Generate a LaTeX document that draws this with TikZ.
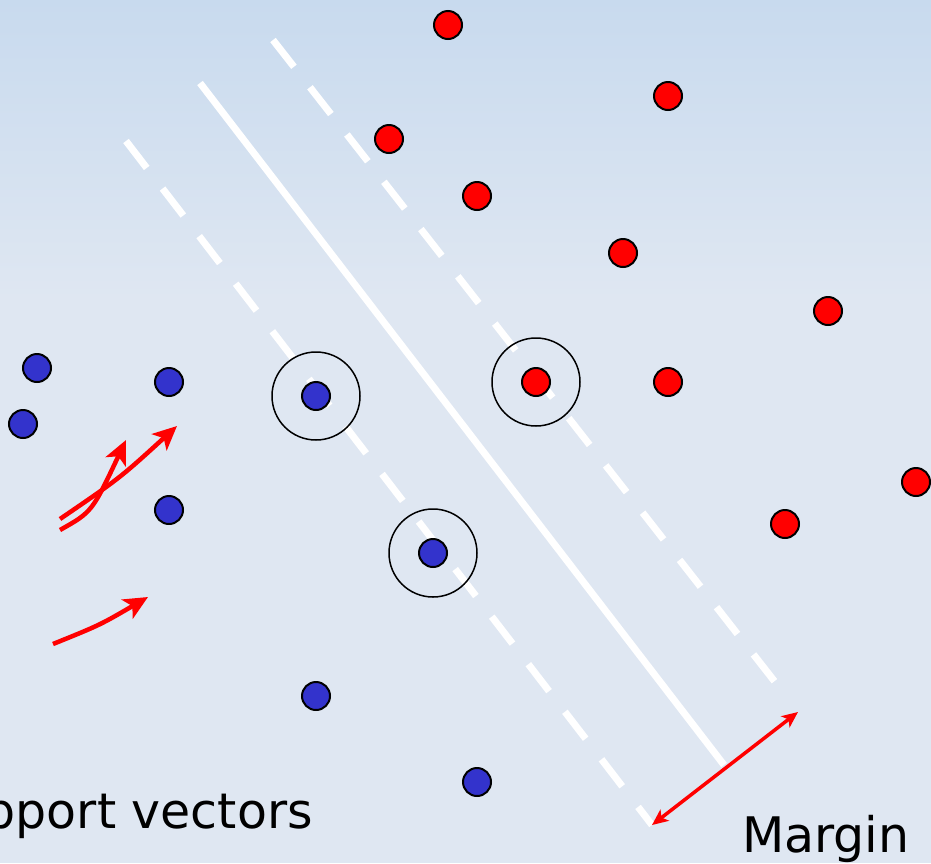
\documentclass[tikz,border=0pt]{standalone}
\usepackage{fontspec}
\setmainfont{DejaVu Sans}
\usetikzlibrary{arrows.meta}
\definecolor{bgtop}{RGB}{200,218,238}
\definecolor{bgbottom}{RGB}{223,231,242}
\definecolor{svblue}{RGB}{51,51,204}

\begin{document}
\begin{tikzpicture}[x=1pt, y=-1pt,
    reddot/.style={circle, draw=black, line width=2pt, fill=red, minimum size=28pt, inner sep=0pt},
    bluedot/.style={circle, draw=black, line width=2pt, fill=svblue, minimum size=28pt, inner sep=0pt},
    ring/.style={circle, draw=black, line width=1.5pt, minimum size=88pt, inner sep=0pt},
    hyper/.style={white, line width=7pt},
    marginline/.style={white, line width=7pt, dash pattern=on 34pt off 26pt},
    pointer/.style={red, line width=4.5pt, -{Stealth[length=24pt, width=22pt, inset=6pt]}},
    label/.style={font=\fontsize{49}{56}\selectfont, inner sep=0pt}
]
\useasboundingbox (0,0) rectangle (931,863);
% background
\shade[top color=bgtop, bottom color=bgbottom] (0,0) rectangle (931,300);
\fill[bgbottom] (0,300) rectangle (931,863);

% separating line and margins
\coordinate (hTop) at (200,83);
\coordinate (hBot) at (724,765);
\coordinate (lTop) at (126,141);
\coordinate (lBot) at (652,825);
\coordinate (rTop) at (273,40);
\coordinate (rBot) at (786,696);
\draw[hyper] (hTop) -- (hBot);
\draw[marginline] (lTop) -- (lBot);
\draw[marginline] (rTop) -- (rBot);

% class +1
\node[reddot] (r1) at (448,25) {};
\node[reddot] (r2) at (668,96) {};
\node[reddot] (r3) at (389,139) {};
\node[reddot] (r4) at (477,196) {};
\node[reddot] (r5) at (623,253) {};
\node[reddot] (r6) at (828,311) {};
\node[reddot] (r7) at (536,382) {};
\node[reddot] (r8) at (668,382) {};
\node[reddot] (r9) at (916,482) {};
\node[reddot] (r10) at (785,524) {};

% class -1
\node[bluedot] (b1) at (37,368) {};
\node[bluedot] (b2) at (23,424) {};
\node[bluedot] (b3) at (169,382) {};
\node[bluedot] (b4) at (316,396) {};
\node[bluedot] (b5) at (169,510) {};
\node[bluedot] (b6) at (433,553) {};
\node[bluedot] (b7) at (316,696) {};
\node[bluedot] (b8) at (477,782) {};

% support vectors
\node[ring] (sv1) at (b4) {};
\node[ring] (sv2) at (r7) {};
\node[ring] (sv3) at (b6) {};

% labels
\node[label, anchor=base east] (svText) at (313,828) {Support vectors};
\node[label, anchor=base west] (mText) at (742,852) {Margin};

% arrows
\coordinate (p1s) at (60,519);
\coordinate (p1e) at (177,426);
\coordinate (p2s) at (60,530);
\coordinate (p2e) at (126,440);
\coordinate (p3s) at (53,644);
\coordinate (p3e) at (148,597);
\draw[pointer] (p1s) .. controls (120,478) .. (p1e);
\draw[pointer] (p2s) .. controls (92,512) .. (p2e);
\draw[pointer] (p3s) .. controls (100,625) .. (p3e);
\draw[red, line width=3.5pt, {Stealth[length=16pt, width=14pt, inset=4pt]}-{Stealth[length=16pt, width=14pt, inset=4pt]}] (lBot) -- (798,712);
\end{tikzpicture}
\end{document}
